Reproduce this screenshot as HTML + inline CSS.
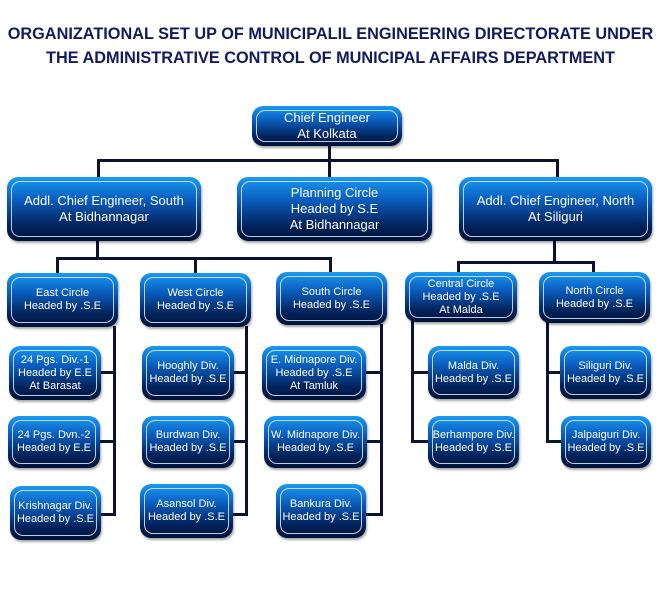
<!DOCTYPE html>
<html><head><meta charset="utf-8"><style>
body{margin:0;width:661px;height:602px;background:#fff;position:relative;overflow:hidden;font-family:"Liberation Sans",sans-serif}
.t{position:absolute;left:0;width:661px;text-align:center;font-weight:bold;color:#141a5e;font-size:16.3px}
.b{position:absolute;border-radius:11px;background:linear-gradient(#1a9af0 0%,#0a5ec0 35%,#03245e 75%,#011236 100%);box-shadow:1px 2px 2px rgba(0,0,0,.35);color:#fff;display:flex;align-items:center;justify-content:center;text-align:center;font-size:11px;line-height:13px;box-sizing:border-box}
.b::after{content:"";position:absolute;left:4px;top:4px;right:4px;bottom:4px;border:1.5px solid rgba(220,235,255,.85);border-radius:9px}
.L{font-size:13px;line-height:16px}
.l{position:absolute;background:#0b1236}
</style></head><body>
<div class="t" style="top:25px">ORGANIZATIONAL SET UP OF MUNICIPALIL ENGINEERING DIRECTORATE UNDER</div>
<div class="t" style="top:49px">THE ADMINISTRATIVE CONTROL OF MUNICIPAL AFFAIRS DEPARTMENT</div>

<div class="l" style="left:328px;top:146px;width:3px;height:32px"></div>
<div class="l" style="left:97px;top:159px;width:462px;height:3px"></div>
<div class="l" style="left:97px;top:159px;width:3px;height:19px"></div>
<div class="l" style="left:556px;top:159px;width:3px;height:19px"></div>

<div class="l" style="left:96px;top:241px;width:3px;height:18px"></div>
<div class="l" style="left:56px;top:257px;width:276px;height:3px"></div>
<div class="l" style="left:56px;top:257px;width:3px;height:17px"></div>
<div class="l" style="left:194px;top:257px;width:3px;height:17px"></div>
<div class="l" style="left:329px;top:257px;width:3px;height:17px"></div>

<div class="l" style="left:553px;top:241px;width:3px;height:22px"></div>
<div class="l" style="left:457px;top:261px;width:137px;height:3px"></div>
<div class="l" style="left:457px;top:261px;width:3px;height:12px"></div>
<div class="l" style="left:592px;top:261px;width:3px;height:12px"></div>

<div class="l" style="left:113px;top:326px;width:3px;height:190px"></div>
<div class="l" style="left:100px;top:371px;width:15px;height:3px"></div>
<div class="l" style="left:100px;top:440px;width:15px;height:3px"></div>
<div class="l" style="left:100px;top:513px;width:15px;height:3px"></div>

<div class="l" style="left:245px;top:326px;width:3px;height:190px"></div>
<div class="l" style="left:233px;top:371px;width:14px;height:3px"></div>
<div class="l" style="left:233px;top:440px;width:14px;height:3px"></div>
<div class="l" style="left:233px;top:513px;width:14px;height:3px"></div>

<div class="l" style="left:380px;top:324px;width:3px;height:192px"></div>
<div class="l" style="left:365px;top:371px;width:17px;height:3px"></div>
<div class="l" style="left:365px;top:440px;width:17px;height:3px"></div>
<div class="l" style="left:365px;top:513px;width:17px;height:3px"></div>

<div class="l" style="left:411px;top:321px;width:3px;height:122px"></div>
<div class="l" style="left:411px;top:371px;width:18px;height:3px"></div>
<div class="l" style="left:411px;top:440px;width:18px;height:3px"></div>

<div class="l" style="left:546px;top:322px;width:3px;height:121px"></div>
<div class="l" style="left:546px;top:371px;width:15px;height:3px"></div>
<div class="l" style="left:546px;top:440px;width:15px;height:3px"></div>

<div class="b L" style="left:252px;top:106px;width:150px;height:40px">Chief Engineer<br>At Kolkata</div>
<div class="b L" style="left:7px;top:177px;width:194px;height:64px">Addl. Chief Engineer, South<br>At Bidhannagar</div>
<div class="b L" style="left:237px;top:177px;width:195px;height:64px">Planning Circle<br>Headed by S.E<br>At Bidhannagar</div>
<div class="b L" style="left:459px;top:177px;width:193px;height:64px">Addl. Chief Engineer, North<br>At Siliguri</div>

<div class="b" style="left:7px;top:273px;width:111px;height:54px">East Circle<br>Headed by .S.E</div>
<div class="b" style="left:140px;top:273px;width:111px;height:54px">West Circle<br>Headed by .S.E</div>
<div class="b" style="left:276px;top:272px;width:111px;height:53px">South Circle<br>Headed by .S.E</div>
<div class="b" style="left:405px;top:272px;width:112px;height:50px">Central Circle<br>Headed by .S.E<br>At Malda</div>
<div class="b" style="left:539px;top:272px;width:111px;height:51px">North Circle<br>Headed by .S.E</div>

<div class="b" style="left:9px;top:346px;width:92px;height:54px">24 Pgs. Div.-1<br>Headed by E.E<br>At Barasat</div>
<div class="b" style="left:8px;top:416px;width:92px;height:52px">24 Pgs. Dvn.-2<br>Headed by E.E</div>
<div class="b" style="left:10px;top:486px;width:91px;height:54px">Krishnagar Div.<br>Headed by .S.E</div>

<div class="b" style="left:142px;top:346px;width:92px;height:54px">Hooghly Div.<br>Headed by .S.E</div>
<div class="b" style="left:142px;top:416px;width:92px;height:52px">Burdwan Div.<br>Headed by .S.E</div>
<div class="b" style="left:140px;top:484px;width:93px;height:54px">Asansol Div.<br>Headed by .S.E</div>

<div class="b" style="left:262px;top:346px;width:104px;height:54px">E. Midnapore Div.<br>Headed by .S.E<br>At Tamluk</div>
<div class="b" style="left:264px;top:416px;width:103px;height:52px">W. Midnapore Div.<br>Headed by .S.E</div>
<div class="b" style="left:276px;top:484px;width:90px;height:54px">Bankura Div.<br>Headed by .S.E</div>

<div class="b" style="left:428px;top:346px;width:91px;height:53px">Malda Div.<br>Headed by .S.E</div>
<div class="b" style="left:428px;top:416px;width:91px;height:52px">Berhampore Div.<br>Headed by .S.E</div>

<div class="b" style="left:560px;top:346px;width:91px;height:53px">Siliguri Div.<br>Headed by .S.E</div>
<div class="b" style="left:561px;top:416px;width:90px;height:52px">Jalpaiguri Div.<br>Headed by .S.E</div>
</body></html>
